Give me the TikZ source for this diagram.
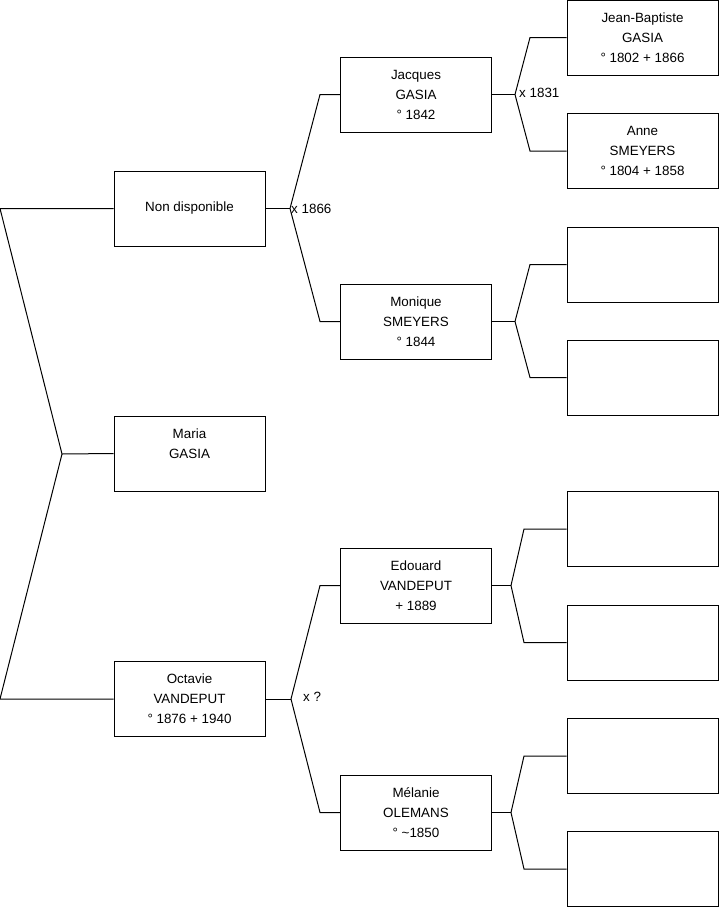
\documentclass[tikz,border=0pt]{standalone}
\usepackage{fontspec}
\setmainfont{Liberation Sans}
\usetikzlibrary{positioning}

\begin{document}
\begin{tikzpicture}[x=1pt, y=-1pt, font=\fontsize{13.4}{20}\selectfont, align=center,
    personne/.style={draw, line width=1pt, minimum width=151pt, minimum height=75pt, inner sep=0pt},
    lien/.style={line width=1pt}]
    \useasboundingbox (0,0) rectangle (719,908);
    % generation 1 et 2
    \node[personne] (nondisp) at (189.5,208.5) {Non disponible};
    \node[personne] (maria) at (189.5,453.5) {Maria\\GASIA\\\phantom{1}};
    \node[personne] (octavie) at (189.5,699) {Octavie\\VANDEPUT\\° 1876 + 1940};
    % generation 3
    \node[personne] (jacques) at (416,94.5) {Jacques\\GASIA\\° 1842};
    \node[personne] (monique) at (416,321.5) {Monique\\SMEYERS\\° 1844};
    \node[personne] (edouard) at (416,585.5) {Edouard\\VANDEPUT\\+ 1889};
    \node[personne] (melanie) at (416,812.5) {Mélanie\\OLEMANS\\° \textasciitilde1850};
    % generation 4
    \node[personne] (jb) at (642.5,37.5) {Jean-Baptiste\\GASIA\\° 1802 + 1866};
    \node[personne] (anne) at (642.5,151) {Anne\\SMEYERS\\° 1804 + 1858};
    \node[personne] (monp) at (642.5,264.5) {};
    \node[personne] (monm) at (642.5,377.5) {};
    \node[personne] (edp) at (642.5,529) {};
    \node[personne] (edm) at (642.5,642.5) {};
    \node[personne] (melp) at (642.5,756) {};
    \node[personne] (melm) at (642.5,869) {};

    % fourches
    \coordinate (fmaria) at (62,454);
    \coordinate (fmh) at (0,208.5);
    \coordinate (fmb) at (0,699);
    \draw[lien] (nondisp.west) -- (fmh) -- (fmaria) -- (fmb) -- (octavie.west);
    \draw[lien] (fmaria) -- (maria.west);

    \coordinate (fnd) at (290,208.5);
    \draw[lien] (nondisp.east) -- (fnd);
    \draw[lien] (fnd) -- (320,94.5) -- (jacques.west);
    \draw[lien] (fnd) -- (320,321.5) -- (monique.west);
    \node[anchor=west, inner sep=1pt] (x1866) at (fnd) {x 1866};

    \coordinate (foct) at (291,699);
    \draw[lien] (octavie.east) -- (foct);
    \draw[lien] (foct) -- (320,585.5) -- (edouard.west);
    \draw[lien] (foct) -- (320,812.5) -- (melanie.west);
    \node[anchor=west, inner sep=0pt] (xinc) at (303,697) {x ?};

    \coordinate (fjac) at (515,94.5);
    \draw[lien] (jacques.east) -- (fjac);
    \draw[lien] (fjac) -- (530,37.5) -- (jb.west);
    \draw[lien] (fjac) -- (530,151) -- (anne.west);
    \node[anchor=west, inner sep=1pt] (x1831) at (518,92.5) {x 1831};

    \coordinate (fmon) at (515,321.5);
    \draw[lien] (monique.east) -- (fmon);
    \draw[lien] (fmon) -- (530,264.5) -- (monp.west);
    \draw[lien] (fmon) -- (530,377.5) -- (monm.west);

    \coordinate (fed) at (511,585.5);
    \draw[lien] (edouard.east) -- (fed);
    \draw[lien] (fed) -- (524,529) -- (edp.west);
    \draw[lien] (fed) -- (524,642.5) -- (edm.west);

    \coordinate (fmel) at (511,812.5);
    \draw[lien] (melanie.east) -- (fmel);
    \draw[lien] (fmel) -- (524,756) -- (melp.west);
    \draw[lien] (fmel) -- (524,869) -- (melm.west);
\end{tikzpicture}
\end{document}
